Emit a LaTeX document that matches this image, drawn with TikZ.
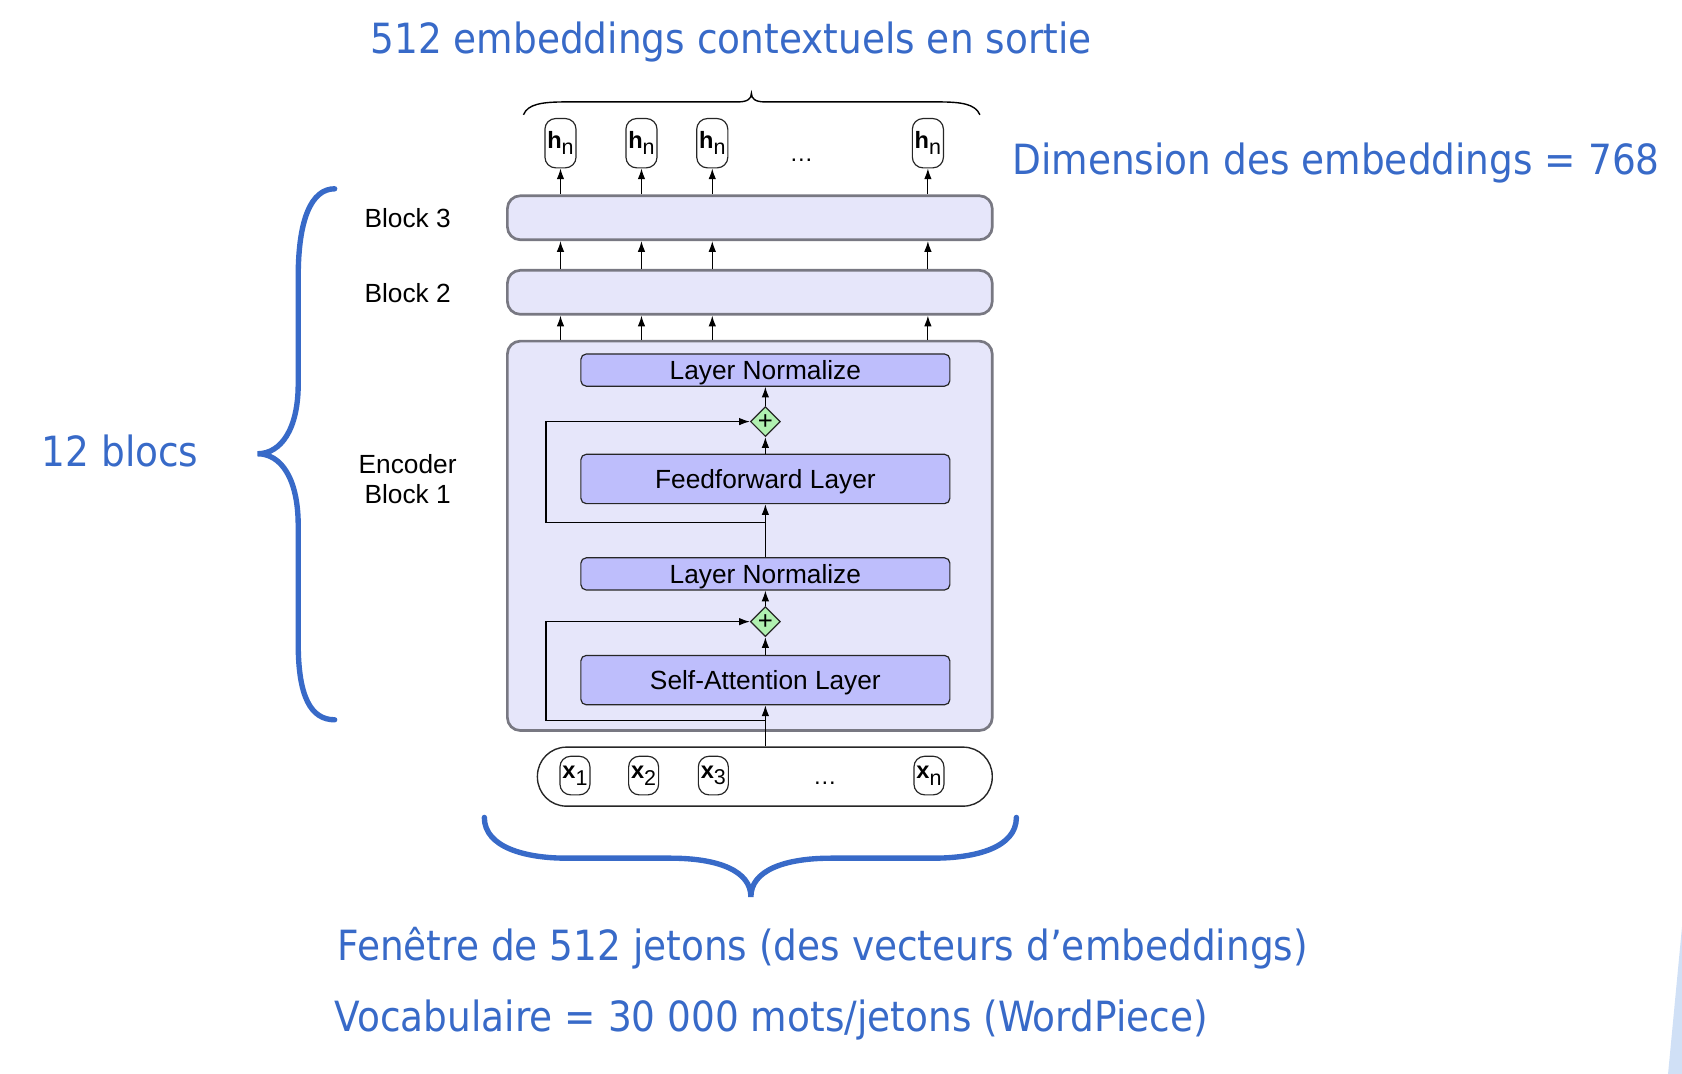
\documentclass[tikz,border=0pt]{standalone}
\usepackage{fontspec}
\setmainfont{Liberation Sans}
\newfontfamily\slidefont[FakeStretch=0.9]{DejaVu Sans}
\usepackage{tikz}
\usetikzlibrary{arrows.meta,positioning,shapes.geometric}

\definecolor{slideblue}{RGB}{56,106,200}
\definecolor{blockfill}{RGB}{230,230,250}
\definecolor{blockline}{RGB}{120,120,130}
\definecolor{layerfill}{RGB}{190,190,252}
\definecolor{sumfill}{RGB}{176,240,176}
\definecolor{sliver}{RGB}{208,224,246}

\newcommand{\tok}[2]{\textbf{#1}\raisebox{-6pt}{\fontsize{20}{20}\selectfont #2}}

\begin{document}
\begin{tikzpicture}[x=1pt,y=-1pt,on grid,node distance=66pt,
    >={Latex[length=10pt,width=7pt]},
    block/.style={rectangle,rounded corners=12pt,draw=blockline,line width=2.5pt,fill=blockfill,minimum width=452pt,inner sep=0pt},
    layer/.style={rectangle,rounded corners=5pt,draw=black!85,line width=1.1pt,fill=layerfill,minimum width=344pt,inner sep=0pt,text depth=0pt,font=\fontsize{24.5}{28}\selectfont},
    token/.style={rectangle,rounded corners=10pt,draw=black!85,line width=1.1pt,fill=white,minimum width=29pt,minimum height=46pt,inner sep=0pt,font=\fontsize{22}{26}\selectfont},
    sumnode/.style={diamond,draw=black!85,line width=1.1pt,fill=sumfill,minimum size=25pt,inner sep=0pt,font=\fontsize{24}{24}\selectfont},
    lbl/.style={font=\fontsize{24.5}{28}\selectfont,align=center},
    note/.style={text=slideblue,font=\slidefont\fontsize{38.8}{44}\selectfont,anchor=base},
    flow/.style={->,line width=1.1pt},
    curly/.style={line width=5pt,draw=slideblue,line cap=round}]
\useasboundingbox (0,0) rectangle (1568,1001);

% blocks
\node[block,minimum height=41pt]  (b3)  at (699,203)   {};
\node[block,minimum height=41pt]  (b2)  at (699,272.5) {};
\node[block,minimum height=363pt] (enc) at (699,499.5) {};

% inside encoder block 1
\node[layer,minimum height=30pt] (ln1)  at (713.5,345)   {Layer Normalize};
\node[sumnode]                   (add1) at (713.5,393)   {+};
\node[layer,minimum height=46pt] (ff)   at (713.5,446.5) {Feedforward Layer};
\node[layer,minimum height=30pt] (ln2)  at (713.5,535)   {Layer Normalize};
\node[sumnode]                   (add2) at (713.5,579.5) {+};
\node[layer,minimum height=46pt] (sa)   at (713.5,634)   {Self-Attention Layer};

% inputs
\node[rectangle,rounded corners=27pt,draw=black!85,line width=1.3pt,fill=white,
      minimum width=424pt,minimum height=55pt] (inp) at (713,724) {};
\node[token,minimum width=28pt,minimum height=36pt] (x1) at (536,723) {\tok{x}{1}};
\node[token,minimum width=28pt,minimum height=36pt] (x2) [right=64pt of x1]  {\tok{x}{2}};
\node[token,minimum width=28pt,minimum height=36pt] (x3) [right=65pt of x2]  {\tok{x}{3}};
\node[token,minimum width=28pt,minimum height=36pt] (xn) [right=201pt of x3] {\tok{x}{n}};
\node[font=\fontsize{22}{22}\selectfont,anchor=base] (xdots) at (769,731) {\dots};

% outputs
\node[token] (h1) at (522.5,133.5) {\tok{h}{n}};
\node[token] (h2) [right=75.5pt of h1] {\tok{h}{n}};
\node[token] (h3) [right=66pt of h2]   {\tok{h}{n}};
\node[token] (hn) [right=201pt of h3]  {\tok{h}{n}};
\node[font=\fontsize{22}{22}\selectfont,anchor=base] (hdots) at (747,151) {\dots};

\path[flow]
    (inp.north -| sa) edge (sa)
    (sa)   edge (add2)
    (add2) edge (ln2)
    (ln2)  edge (ff)
    (ff)   edge (add1)
    (add1) edge (ln1)
    (enc.north -| h1) edge (b2.south -| h1)
    (enc.north -| h2) edge (b2.south -| h2)
    (enc.north -| h3) edge (b2.south -| h3)
    (enc.north -| hn) edge (b2.south -| hn)
    (b2.north -| h1) edge (b3.south -| h1)
    (b2.north -| h2) edge (b3.south -| h2)
    (b2.north -| h3) edge (b3.south -| h3)
    (b2.north -| hn) edge (b3.south -| hn)
    (b3.north -| h1) edge (h1)
    (b3.north -| h2) edge (h2)
    (b3.north -| h3) edge (h3)
    (b3.north -| hn) edge (hn);

% residual paths
\coordinate (skip2) at (713.5,672);
\coordinate (skip1) at (713.5,487);
\draw[flow] (skip2) -- ++(-204.5,0) |- (add2);
\draw[flow] (skip1) -- ++(-204.5,0) |- (add1);

% labels
\node[lbl] (lbl3) at (380,203) {Block 3};
\node[lbl] (lbl2) at (380,273) {Block 2};
\node[lbl] (lbl1) at (380,447) {Encoder\\Block 1};

% braces
\draw[line width=1.3pt] (488,107) .. controls (492,97) and (505,95) .. (528,95) -- (688,95)
    .. controls (697,95) and (700.5,92) .. (700.5,87) .. controls (700.5,92) and (704,95) .. (713,95)
    -- (874,95) .. controls (897,95) and (909,97) .. (913.5,107);
\draw[curly] (312,176) .. controls (290,176) and (278,205) .. (278,258) -- (278,358)
    .. controls (278,400) and (262,423) .. (240,423) .. controls (262,423) and (278,446) .. (278,490)
    -- (278,600) .. controls (278,650) and (290,671) .. (312,671);
\draw[curly] (451.5,762) .. controls (451.5,790) and (490,800) .. (528,800) -- (625,800)
    .. controls (670,800) and (700,812) .. (700,836) .. controls (700,812) and (730,800) .. (775,800)
    -- (870,800) .. controls (910,800) and (947.5,790) .. (947.5,762);

% slide texts
\node[note] (title) at (681.5,50)  {512 embeddings contextuels en sortie};
\node[note] (dim)   at (1245.5,163) {Dimension des embeddings = 768};
\node[note] (nblk)  at (112,435)   {12 blocs};
\node[note] (win)   at (767,895)   {Fenêtre de 512 jetons (des vecteurs d’embeddings)};
\node[note] (voc)   at (719,962)   {Vocabulaire = 30 000 mots/jetons (WordPiece)};

\fill[sliver] (1568,864) -- (1555,1001) -- (1568,1001) -- cycle;
\end{tikzpicture}
\end{document}
